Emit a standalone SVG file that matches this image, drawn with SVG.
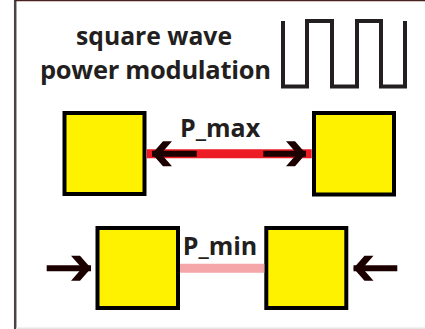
<svg xmlns="http://www.w3.org/2000/svg" width="425" height="329" viewBox="0 0 425 329">
<style>
.frame-l{stroke:#4d4244;stroke-width:2.5;fill:none}
.frame-t{stroke:#4a2020;stroke-width:1.2;fill:none}
.frame-b{stroke:#e4e4e4;stroke-width:1.5;fill:none}
.box{fill:#fff200;stroke:#000;stroke-width:4}
.lbl{font-family:"Open Sans","Liberation Sans",sans-serif;font-weight:bold;fill:#231f20}
.title{font-size:25.5px}
.plabel{font-size:25px}
.wave{fill:none;stroke:#231f20;stroke-width:4;stroke-linejoin:miter;stroke-linecap:butt}
.dark{stroke:#1c0000;stroke-width:6;fill:none}
.red{stroke:#ed1c24;stroke-width:9;fill:none}
.pink{stroke:#f5a6a8;stroke-width:9;fill:none}
</style>
<defs>
<marker id="head" markerUnits="userSpaceOnUse" markerWidth="24" markerHeight="30" viewBox="-22 -15 24 30" refX="0" refY="0" orient="auto">
<path d="M0,0 L-11,-12.5 L-20,-12.5 L-9,0 L-20,12.5 L-11,12.5 Z" fill="#1c0000"/>
</marker>
</defs>
<rect width="425" height="329" fill="#fff"/>
<g id="frame">
<line class="frame-l" x1="15.2" y1="0" x2="15.2" y2="329"/>
<line class="frame-t" x1="15" y1="0.6" x2="425" y2="0.6"/>
<line class="frame-b" x1="16" y1="328.2" x2="425" y2="328.2"/>
</g>
<g id="title">
<text class="lbl title" x="76" y="45" textLength="156" lengthAdjust="spacingAndGlyphs">square wave</text>
<text class="lbl title" x="40" y="79" textLength="231" lengthAdjust="spacing">power modulation</text>
<path class="wave" d="M283,21 V86.5 H307 V21 H332 V86.5 H357 V21 H381 V86.5 H405 V21"/>
</g>
<g id="box-max-left"><rect class="box" x="64.5" y="113" width="80" height="81"/></g>
<g id="box-max-right"><rect class="box" x="314" y="113" width="80" height="81.5"/></g>
<g id="box-min-left"><rect class="box" x="97.5" y="228" width="80.5" height="80"/></g>
<g id="box-min-right"><rect class="box" x="266.3" y="228" width="80" height="80"/></g>
<g id="connectors">
<line class="red" x1="146.7" y1="153.7" x2="311.7" y2="153.7"/>
<line class="dark" x1="196.7" y1="153.7" x2="152" y2="153.7" marker-end="url(#head)"/>
<line class="dark" x1="263.3" y1="153.7" x2="306" y2="153.7" marker-end="url(#head)"/>
<line class="pink" x1="180" y1="268.2" x2="264.3" y2="268.2"/>
<line class="dark" x1="46.7" y1="268.3" x2="91" y2="268.3" marker-end="url(#head)"/>
<line class="dark" x1="397.3" y1="268.3" x2="353.5" y2="268.3" marker-end="url(#head)"/>
</g>
<g id="labels">
<text class="lbl plabel" x="180" y="136.7">P_max</text>
<text class="lbl plabel" x="182.7" y="255">P_min</text>
</g>
</svg>
